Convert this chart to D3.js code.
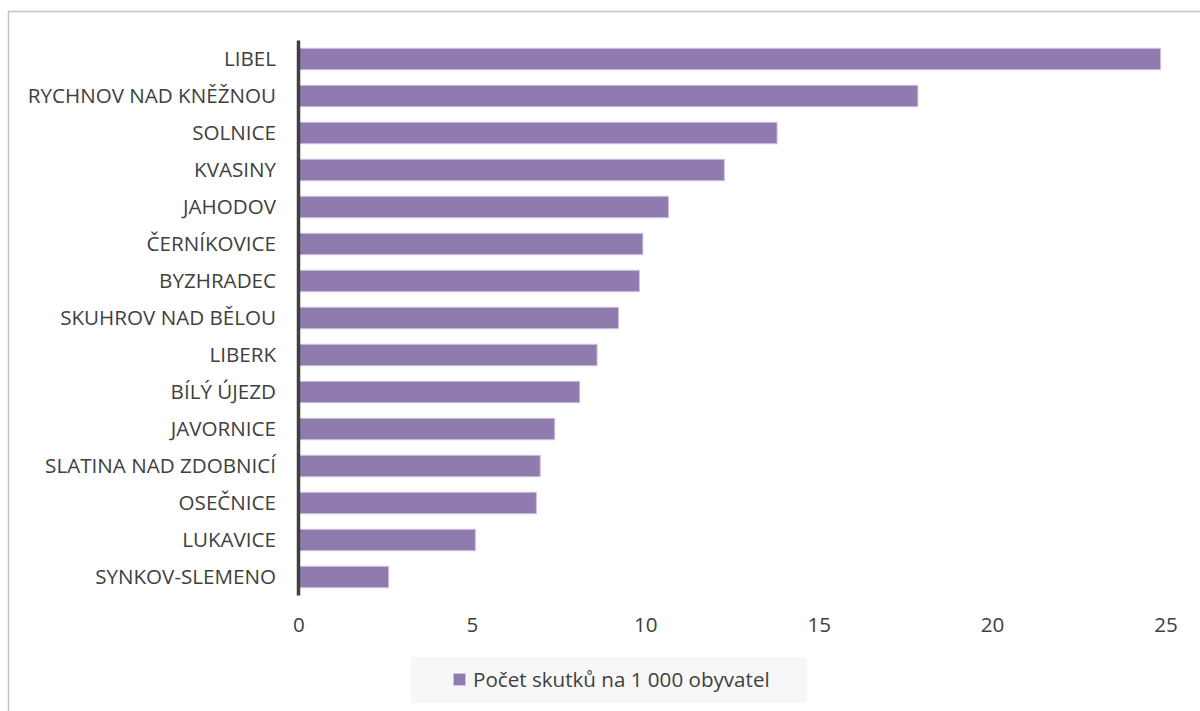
<!DOCTYPE html>
<html>
<head>
<meta charset="utf-8">
<script src="https://cdn.jsdelivr.net/npm/d3@7"></script>
<style>
  html, body { margin: 0; padding: 0; background: #fff; }
  svg { display: block; }
  text { font-family: "Open Sans", sans-serif; fill: #404040; }
</style>
</head>
<body>
<script>
const categories = [
  "LIBEL", "RYCHNOV NAD KNĚŽNOU", "SOLNICE", "KVASINY", "JAHODOV",
  "ČERNÍKOVICE", "BYZHRADEC", "SKUHROV NAD BĚLOU", "LIBERK", "BÍLÝ ÚJEZD",
  "JAVORNICE", "SLATINA NAD ZDOBNICÍ", "OSEČNICE", "LUKAVICE", "SYNKOV-SLEMENO"
];
const values = [24.86, 17.86, 13.8, 12.28, 10.67, 9.93, 9.83, 9.23, 8.61, 8.11, 7.39, 6.97, 6.86, 5.1, 2.6];
const xTicks = [0, 5, 10, 15, 20, 25];
const seriesName = "Počet skutků na 1 000 obyvatel";

const W = 1200, H = 711;
const FS = 20.6;
const svg = d3.select("body").append("svg").attr("width", W).attr("height", H);

// outer chart border (extends beyond the window)
svg.append("rect")
  .attr("x", 8.5).attr("y", 11.5).attr("width", 1300).attr("height", 900)
  .attr("fill", "none").attr("stroke", "#c4c4c4").attr("stroke-width", 1.5);

const x = d3.scaleLinear().domain([0, 25]).range([298.5, 1165.5]);
const y = d3.scaleBand().domain(categories).range([40.5, 595.5])
  .paddingInner(0.42).paddingOuter(0.21);

// bars
svg.append("g").selectAll("rect").data(values).join("rect")
  .attr("x", x(0))
  .attr("y", (d, i) => y(categories[i]))
  .attr("width", d => x(d) - x(0))
  .attr("height", y.bandwidth())
  .attr("fill", "#907bae")
  .attr("stroke", "#d0c4e0").attr("stroke-width", 1);

// y axis (category labels)
const yAxis = svg.append("g").attr("transform", `translate(276,0)`)
  .call(d3.axisLeft(y).tickSize(0).tickPadding(0));
yAxis.select(".domain").remove();
yAxis.selectAll("text").attr("font-size", FS).attr("fill", "#404040")
  .attr("dy", "0.35em").style("font-family", "'Open Sans', sans-serif");

// axis line at zero
svg.append("line")
  .attr("x1", x(0)).attr("x2", x(0)).attr("y1", 40.5).attr("y2", 595.5)
  .attr("stroke", "#404040").attr("stroke-width", 3.5);

// x axis
const xAxis = svg.append("g").attr("transform", `translate(0,617)`)
  .call(d3.axisBottom(x).tickValues(xTicks).tickSize(0).tickPadding(0));
xAxis.select(".domain").remove();
xAxis.selectAll("text").attr("font-size", FS).attr("fill", "#404040")
  .attr("dy", "0.71em").style("font-family", "'Open Sans', sans-serif");

// legend
const lg = svg.append("g");
lg.append("rect").attr("x", 411).attr("y", 657).attr("width", 396).attr("height", 46)
  .attr("fill", "#f7f7f7");
lg.append("rect").attr("x", 453.5).attr("y", 673.5).attr("width", 12).attr("height", 12)
  .attr("fill", "#907bae").attr("stroke", "#d0c4e0").attr("stroke-width", 1);
lg.append("text").attr("x", 473).attr("y", 680).attr("dy", "0.35em")
  .attr("font-size", FS).text(seriesName);
</script>
</body>
</html>
